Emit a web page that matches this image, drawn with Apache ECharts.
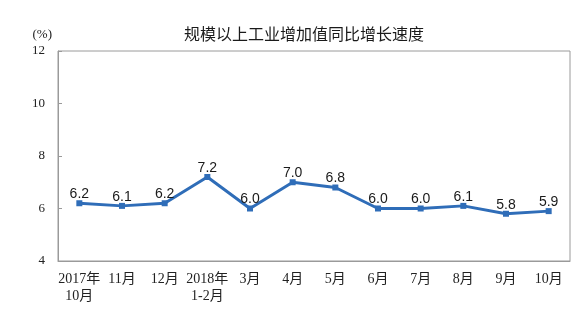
<!DOCTYPE html>
<html><head><meta charset="utf-8">
<script src="https://cdn.jsdelivr.net/npm/echarts@6/dist/echarts.min.js"></script>
<style>html,body{margin:0;padding:0;background:#fff}#c{width:575px;height:328px}</style>
</head><body><div id="c"></div>
<script>
var categories = ['2017年\n10月','11月','12月','2018年\n1-2月','3月','4月','5月','6月','7月','8月','9月','10月'];
var values = [6.2, 6.1, 6.2, 7.2, 6.0, 7.0, 6.8, 6.0, 6.0, 6.1, 5.8, 5.9];
var titleText = '规模以上工业增加值同比增长速度';
var unitText = '(%)';
var chart = echarts.init(document.getElementById('c'));
var serif = '"Liberation Serif","Noto Sans CJK SC",serif';
chart.setOption({
  animation: false,
  title: {text: titleText, left: 299, top: 21, textAlign: 'center',
    textStyle: {fontSize: 16, fontWeight: 'normal', color: '#1a1a1a', fontFamily: '"Noto Sans CJK SC",sans-serif'}},
  grid: {left: 58, right: 5, top: 51, bottom: 67, show: true, borderColor: '#9a9a9a', borderWidth: 1},
  xAxis: {type: 'category', data: categories, boundaryGap: true,
    axisLine: {lineStyle: {color: '#9a9a9a'}},
    axisTick: {inside: true, length: 5, lineStyle: {color: '#9a9a9a'}, interval: 0},
    axisLabel: {interval: 0, fontFamily: serif, fontSize: 14, color: '#222', margin: 10, lineHeight: 17}},
  yAxis: {type: 'value', min: 4, max: 12, interval: 2, name: unitText,
    nameLocation: 'end', nameGap: 10, nameTextStyle: {fontFamily: serif, fontSize: 13, color: '#222', align: 'right', padding: [0, 6, 0, 0]},
    splitLine: {show: false},
    axisLine: {show: true, lineStyle: {color: '#9a9a9a'}},
    axisTick: {show: true, inside: true, length: 4, lineStyle: {color: '#9a9a9a'}},
    axisLabel: {fontFamily: serif, fontSize: 13, color: '#222', margin: 13}},
  series: [{type: 'line', data: values, symbol: 'rect', symbolSize: 6,
    lineStyle: {color: '#2f6db8', width: 3},
    itemStyle: {color: '#2f6db8'},
    label: {show: true, position: 'top', distance: -1, fontSize: 14, color: '#1a1a1a',
      fontFamily: '"Liberation Sans",Arial,sans-serif',
      formatter: function(p){return p.value.toFixed(1);}}}]
});
</script></body></html>
